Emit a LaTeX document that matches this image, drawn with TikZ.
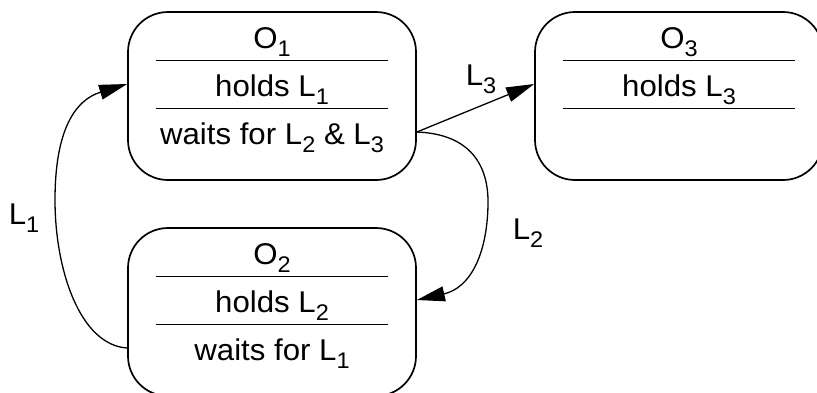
\documentclass[tikz,border=0pt]{standalone}
\usepackage{fontspec}
\setmainfont[FakeStretch=1.04]{Liberation Sans}
\usetikzlibrary{arrows.meta}
\newcommand{\subx}[1]{\raisebox{-4pt}{\fontsize{11.3}{12}\selectfont #1}}
\begin{document}
\begin{tikzpicture}[x=0.5pt,y=-0.5pt,
  box/.style={draw, line width=0.85pt, rounded corners=20pt, minimum width=144pt, minimum height=84pt, inner sep=0pt},
  row/.style={minimum width=116pt, text height=18.25pt, text depth=5.75pt, inner sep=0pt, font=\fontsize{15}{18}\selectfont},
  sepline/.style={line width=0.85pt},
  conn/.style={line width=0.65pt, -{Triangle[length=14pt,width=7.5pt]}},
  lbl/.style={font=\fontsize{15}{18}\selectfont}]
\useasboundingbox (0,0) rectangle (817,392);
\begin{scope}
\clip (0,0) rectangle (817,392);
% boxes
\node[box] (o1) at (272,96) {};
\node[box] (o2) at (272,312) {};
\node[box] (o3) at (679,96) {};
% rows of O1
\node[row] (a1) at (272,36) {O\subx{1}};
\node[row] (a2) at (272,84) {holds L\subx{1}};
\node[row] (a3) at (272,132) {waits for L\subx{2} \& L\subx{3}};
% rows of O2
\node[row] (b1) at (272,252) {O\subx{2}};
\node[row] (b2) at (272,300) {holds L\subx{2}};
\node[row] (b3) at (272,348) {waits for L\subx{1}};
% rows of O3
\node[row] (c1) at (679,36) {O\subx{3}};
\node[row] (c2) at (679,84) {holds L\subx{3}};
% separators
\draw[sepline] (a1.south west) -- (a1.south east);
\draw[sepline] (a2.south west) -- (a2.south east);
\draw[sepline] (b1.south west) -- (b1.south east);
\draw[sepline] (b2.south west) -- (b2.south east);
\draw[sepline] (c1.south west) -- (c1.south east);
\draw[sepline] (c2.south west) -- (c2.south east);
\end{scope}
% connectors
\draw[conn] (a3.east -| o1.east) -- (c2.west -| o3.west);
\draw[conn] (a3.east -| o1.east) .. controls (470,134) and (489,165) .. (488,205)
  .. controls (487,255) and (470,288) .. (b2.east -| o2.east);
\draw[conn] (b3.west -| o2.west) .. controls (80,345) and (55,270) .. (55,200)
  .. controls (55,130) and (75,100) .. (a2.west -| o1.west);
% labels
\node[lbl] (l3) at (481,79) {L\subx{3}};
\node[lbl] (l2) at (528,233) {L\subx{2}};
\node[lbl] (l1) at (24,218) {L\subx{1}};
\end{tikzpicture}
\end{document}
